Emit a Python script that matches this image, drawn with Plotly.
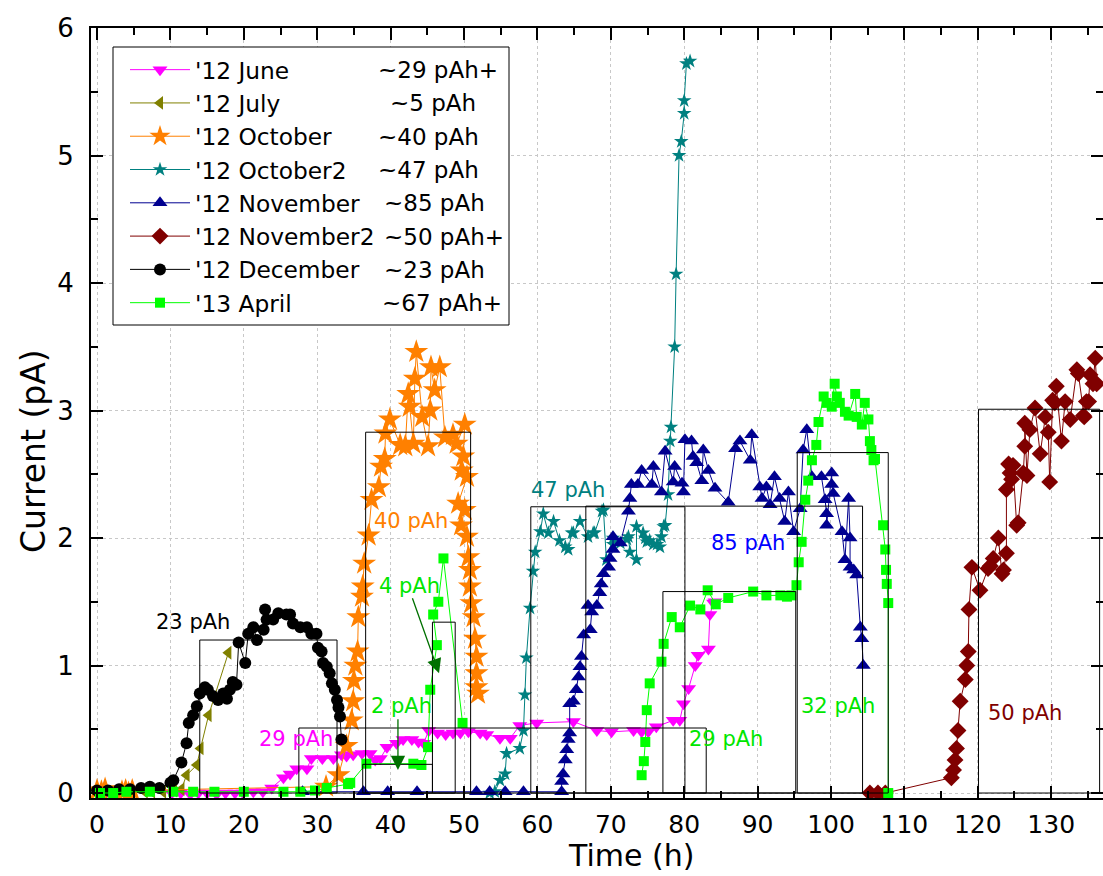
import plotly.graph_objects as go

# ---------------- data ----------------
series_names = ["'12 June", "'12 July", "'12 October", "'12 October2",
                "'12 November", "'12 November2", "'12 December", "'13 April"]
series_charge = ["~29 pAh+", "~5 pAh", "~40 pAh", "~47 pAh",
                 "~85 pAh", "~50 pAh+", "~23 pAh", "~67 pAh+"]

june_t = [0.0, 1.2, 2.5, 10.2, 11.4, 12.7, 13.8, 15.0, 16.3, 17.5,
          18.8, 19.9, 21.3, 22.6, 23.8, 25.4, 26.3, 27.2, 28.6, 29.2,
          30.7, 32.2, 33.3, 34.0, 34.9, 36.1, 37.2, 37.9, 38.6, 39.5,
          40.8, 41.7, 42.9, 43.8, 44.5, 45.2, 46.4, 47.5, 48.5, 49.5,
          50.6, 52.2, 53.1, 54.9, 56.3, 57.6, 59.9, 64.9, 68.1, 70.1,
          73.1, 74.2, 75.1, 76.2, 78.5, 79.4, 79.9, 80.6, 81.5, 81.9,
          83.3, 83.5, 84.0, 84.2]
june_i = [0.01, 0.00, 0.01, 0.00, 0.00, -0.01, 0.00, 0.00, -0.01, 0.00,
          0.00, 0.00, 0.01, 0.01, 0.04, 0.12, 0.15, 0.19, 0.19, 0.27,
          0.27, 0.27, 0.30, 0.29, 0.30, 0.31, 0.31, 0.26, 0.27, 0.36,
          0.39, 0.42, 0.42, 0.40, 0.39, 0.49, 0.47, 0.46, 0.47, 0.47,
          0.48, 0.47, 0.46, 0.43, 0.43, 0.53, 0.55, 0.56, 0.49, 0.48,
          0.49, 0.48, 0.48, 0.52, 0.57, 0.57, 0.70, 0.82, 1.00, 1.08,
          1.13, 1.40, 1.49, 1.50]

july_t = [6.5, 7.5, 9.0, 10.5, 11.5, 12.2, 13.6, 14.1, 15.2, 17.9]
july_i = [0.01, 0.01, 0.01, 0.02, 0.03, 0.14, 0.22, 0.35, 0.61, 1.10]

oct_t = [0.0, 0.6, 1.1, 3.4, 3.9, 4.3, 4.8, 31.2, 32.9, 34.0,
         34.7, 34.9, 35.0, 35.2, 35.5, 35.6, 36.1, 36.2, 36.4, 37.0,
         37.4, 38.4, 38.7, 39.2, 39.3, 39.9, 41.3, 42.0, 42.4, 42.6,
         43.1, 43.3, 43.5, 44.3, 45.1, 45.4, 45.5, 46.0, 46.7, 47.4,
         48.5, 49.0, 50.1, 49.9, 49.7, 50.4, 49.2, 50.1, 49.6, 50.4,
         50.6, 50.8, 50.8, 51.0, 51.3, 51.5, 51.7, 51.7, 51.7, 51.9]
oct_i = [0.02, 0.01, 0.03, 0.01, 0.02, 0.00, 0.02, 0.05, 0.14, 0.37,
         0.57, 0.72, 0.88, 1.00, 1.11, 1.38, 1.54, 1.62, 1.80, 2.02,
         2.30, 2.40, 2.56, 2.62, 2.82, 2.93, 2.73, 2.72, 3.13, 3.03,
         2.74, 3.25, 3.46, 2.95, 2.72, 3.00, 3.34, 3.16, 3.34, 2.79,
         2.81, 2.74, 2.89, 2.64, 2.53, 2.48, 2.27, 2.22, 2.10, 2.01,
         1.85, 1.75, 1.62, 1.49, 1.38, 1.21, 1.07, 0.94, 0.83, 0.78]

oct2_t = [53.5, 54.2, 54.9, 55.6, 55.8, 57.6, 58.1, 58.3, 58.5, 59.0,
          59.4, 59.7, 60.4, 60.8, 61.5, 62.2, 63.0, 63.8, 64.2, 64.7,
          64.9, 65.8, 66.9, 67.6, 67.8, 68.8, 69.0, 69.4, 70.3, 70.3,
          71.3, 72.2, 72.4, 72.6, 73.5, 73.5, 74.4, 74.7, 74.9, 75.3,
          75.8, 76.3, 76.7, 76.9, 77.2, 77.4, 77.8, 78.1, 78.2, 78.7,
          78.9, 79.3, 79.6, 80.0, 80.0, 80.3, 80.8]
oct2_i = [0.00, 0.01, 0.10, 0.15, 0.31, 0.35, 0.49, 0.77, 1.06, 1.45,
          1.74, 1.89, 2.05, 2.19, 2.04, 2.13, 1.98, 1.93, 1.91, 2.04,
          2.04, 2.13, 2.01, 2.04, 2.04, 2.21, 2.22, 1.83, 1.95, 2.00,
          1.96, 1.99, 2.01, 1.89, 1.83, 2.09, 2.04, 2.00, 1.97, 1.98,
          1.95, 1.95, 1.93, 2.01, 2.09, 2.10, 2.34, 2.76, 2.87, 3.50,
          4.07, 5.00, 5.11, 5.33, 5.43, 5.72, 5.74]

nov_t = [28.0, 36.3, 39.6, 43.6, 51.7, 53.5, 55.6, 58.1, 63.3, 63.3,
         63.5, 63.8, 64.0, 64.2, 64.4, 64.4, 64.9, 65.3, 65.6, 65.8,
         66.0, 66.3, 67.2, 67.4, 66.9, 68.1, 68.5, 68.7, 69.0, 69.7,
         69.9, 70.3, 70.3, 71.3, 72.4, 72.6, 72.8, 73.7, 74.2, 75.6,
         75.8, 76.9, 77.4, 78.5, 78.7, 79.7, 79.9, 80.1, 81.0, 81.2,
         81.7, 82.4, 82.6, 83.3, 84.2, 86.0, 87.0, 87.6, 89.0, 89.2,
         90.3, 90.6, 91.2, 91.7, 92.3, 93.0, 93.7, 94.2, 94.9, 95.8,
         96.2, 96.7, 97.4, 98.7, 99.2, 99.4, 99.4, 100.1, 100.1, 100.3,
         101.5, 101.9, 102.4, 102.6, 102.6, 103.1, 103.5, 104.0, 104.2, 104.4]
nov_i = [0.01, 0.01, 0.01, 0.01, 0.01, 0.01, 0.01, 0.01, 0.01, 0.09,
         0.15, 0.26, 0.34, 0.42, 0.47, 0.70, 0.72, 0.81, 0.91, 0.99,
         1.07, 1.24, 1.28, 1.42, 1.47, 1.47, 1.57, 1.64, 1.72, 1.77,
         1.84, 1.91, 2.01, 1.96, 2.21, 2.31, 2.42, 2.42, 2.53, 2.42,
         2.56, 2.36, 2.68, 2.44, 2.56, 2.43, 2.36, 2.77, 2.76, 2.64,
         2.59, 2.45, 2.69, 2.53, 2.39, 2.28, 2.70, 2.76, 2.61, 2.81,
         2.40, 2.31, 2.40, 2.26, 2.48, 2.31, 2.13, 2.36, 2.05, 2.23,
         2.69, 2.85, 2.48, 2.48, 2.30, 2.19, 2.10, 2.51, 2.42, 2.35,
         2.05, 1.83, 2.31, 2.00, 1.77, 1.75, 1.71, 1.30, 1.21, 1.00]

nov2_t = [105.3, 106.4, 107.4, 116.4, 116.7, 116.9, 117.1, 117.3, 117.6, 118.3,
          118.5, 118.7, 118.8, 119.2, 120.3, 121.4, 121.7, 122.1, 122.8, 123.3,
          123.5, 123.9, 123.9, 124.2, 124.4, 124.6, 124.8, 125.3, 125.5, 126.2,
          126.4, 126.4, 126.7, 127.1, 127.8, 128.5, 129.2, 129.6, 129.8, 130.2,
          130.5, 130.7, 131.4, 131.9, 132.6, 133.5, 133.7, 134.4, 134.5, 134.8,
          135.1, 135.3, 135.7, 136.0, 136.2]
nov2_i = [0.00, 0.00, 0.00, 0.12, 0.18, 0.26, 0.35, 0.49, 0.72, 0.89,
          1.00, 1.11, 1.44, 1.77, 1.59, 1.76, 1.78, 1.84, 2.00, 1.72,
          1.75, 1.88, 2.38, 2.58, 2.51, 2.46, 2.57, 2.10, 2.12, 2.51,
          2.72, 2.90, 2.49, 2.85, 3.02, 2.66, 2.95, 2.83, 2.44, 3.08,
          3.06, 3.19, 2.76, 3.07, 2.93, 3.32, 3.29, 2.96, 2.95, 3.07,
          3.07, 3.28, 3.21, 3.41, 3.21]

dec_t = [0.0, 1.5, 3.0, 4.5, 6.0, 7.2, 8.5, 10.0, 10.4, 11.5,
         12.2, 12.5, 13.1, 13.6, 14.0, 14.7, 15.1, 15.8, 16.5, 17.2,
         17.7, 18.1, 18.5, 19.0, 19.3, 20.2, 20.6, 21.3, 21.8, 22.7,
         22.9, 23.1, 24.0, 24.7, 25.8, 26.3, 26.7, 27.7, 28.6, 29.2,
         29.9, 30.1, 30.6, 30.8, 31.3, 31.7, 32.0, 32.4, 32.7, 32.9,
         33.1, 33.3]
dec_i = [0.02, 0.02, 0.03, 0.03, 0.04, 0.05, 0.04, 0.08, 0.10, 0.24,
         0.39, 0.55, 0.61, 0.68, 0.78, 0.83, 0.81, 0.76, 0.73, 0.78,
         0.74, 0.81, 0.87, 0.85, 1.18, 1.02, 1.25, 1.30, 1.20, 1.28,
         1.44, 1.36, 1.36, 1.41, 1.40, 1.40, 1.33, 1.30, 1.30, 1.25,
         1.25, 1.14, 1.11, 1.02, 0.99, 0.94, 0.86, 0.81, 0.73, 0.67,
         0.60, 0.42]

apr_t = [0.4, 2.2, 4.0, 7.2, 10.4, 13.1, 16.0, 20.0, 25.4, 27.7,
         29.7, 31.3, 34.2, 34.5, 36.7, 43.1, 44.2, 45.1, 45.4, 46.3,
         45.8, 46.5, 47.2, 49.8, None, 74.2, 74.5, 74.7, 74.9, 75.3,
         76.9, 77.2, 78.3, 79.4, 80.8, 82.2, 83.2, 84.3, 86.0, 89.4,
         91.2, 93.1, 94.0, 94.6, 95.3, 95.6, 96.0, 96.5, 96.9, 97.4,
         98.0, 98.3, 99.0, 99.4, 100.1, 100.5, 100.8, 101.2, 101.9, 102.4,
         103.3, 103.5, 104.2, 104.6, 105.1, 105.3, 105.5, 105.8, 106.0, 107.1,
         107.4, 107.5, 107.6, 107.8, 107.8]
apr_i = [0.00, 0.00, 0.01, 0.01, 0.01, 0.01, 0.01, 0.01, 0.01, 0.01,
         0.02, 0.04, 0.07, 0.08, 0.23, 0.23, 0.22, 0.36, 0.81, 1.16,
         1.40, 1.50, 1.84, 0.55, None, 0.14, 0.25, 0.40, 0.65, 0.86,
         1.03, 1.17, 1.38, 1.30, 1.47, 1.44, 1.59, 1.48, 1.53, 1.58,
         1.55, 1.55, 1.54, 1.55, 1.63, 1.81, 1.97, 2.30, 2.45, 2.61,
         2.73, 2.91, 3.11, 3.06, 3.03, 3.21, 3.11, 3.06, 2.99, 2.96,
         3.13, 2.95, 2.89, 3.06, 2.93, 2.76, 2.69, 2.61, 2.62, 2.10,
         1.91, 1.75, 1.64, 1.49, 0.00]

# integrated-charge boxes: start time, end time, mean current, label
box_t0 = [14.0, 27.5, 36.2, 45.7, 36.6, 59.1, 66.6, 77.1, 95.4, 120.1]
box_t1 = [32.7, 83.0, 45.7, 48.8, 50.9, 80.1, 104.3, 95.2, 107.8, 136.6]
box_i = [1.20, 0.51, 0.225, 1.34, 2.83, 2.245, 2.25, 1.58, 2.67, 3.01]
box_label = ["23 pAh", "29 pAh", "2 pAh", "4 pAh", "40 pAh",
             "47 pAh", "85 pAh", "29 pAh", "32 pAh", "50 pAh"]

# ---------------- styling ----------------
FONT = "DejaVu Sans"
styles = [
    dict(color="#FF00FF", symbol="triangle-down", size=13),
    dict(color="#808000", symbol="triangle-left", size=12),
    dict(color="#FF8000", symbol="star", size=18),
    dict(color="#008080", symbol="star", size=11),
    dict(color="#000090", symbol="triangle-up", size=13),
    dict(color="#800000", symbol="diamond", size=13),
    dict(color="#000000", symbol="circle", size=12),
    dict(color="#00FF00", symbol="square", size=10),
]
series_t = [june_t, july_t, oct_t, oct2_t, nov_t, nov2_t, dec_t, apr_t]
series_i = [june_i, july_i, oct_i, oct2_i, nov_i, nov2_i, dec_i, apr_i]

fig = go.Figure()
for name, t, cur, st in zip(series_names, series_t, series_i, styles):
    fig.add_trace(go.Scatter(
        x=t, y=cur, name=name, mode="lines+markers", connectgaps=False,
        line=dict(color=st["color"], width=1),
        marker=dict(symbol=st["symbol"], size=st["size"], color=st["color"],
                    line=dict(width=0)),
    ))

for t0, t1, h in zip(box_t0, box_t1, box_i):
    fig.add_shape(type="rect", xref="x", yref="y", x0=t0, x1=t1, y0=0, y1=h,
                  line=dict(color="black", width=1), layer="above")

# box labels (position, colour)
label_pos = [(13.1, 1.34), (27.1, 0.42), (41.5, 0.68), (42.6, 1.62), (42.8, 2.13),
             (64.2, 2.38), (88.7, 1.96), (85.7, 0.42), (101.0, 0.68), (126.4, 0.63)]
label_col = ["#000000", "#FF00FF", "#00E600", "#00E600", "#FF8000",
             "#008080", "#0000FF", "#00E600", "#00E600", "#800000"]
for txt, (lx, ly), col in zip(box_label, label_pos, label_col):
    fig.add_annotation(x=lx, y=ly, xref="x", yref="y", text=txt, showarrow=False,
                       font=dict(family=FONT, size=21, color=col))

# arrows for the small boxes
for (tx, ty), (hx, hy) in [((41.0, 0.59), (41.0, 0.18)), ((42.9, 1.54), (46.6, 0.94))]:
    fig.add_annotation(x=hx, y=hy, ax=tx, ay=ty, xref="x", yref="y", axref="x", ayref="y",
                       text="", showarrow=True, arrowhead=2, arrowsize=2.2,
                       arrowwidth=1.3, arrowcolor="#007000")

# ---------------- layout ----------------
W, H = 1103, 876
ML, MR, MT, MB = 91, 0, 28, 78
PW, PH = W - ML - MR, H - MT - MB


def px(xp):
    return (xp - ML) / PW


def py(yp):
    return (H - MB - yp) / PH


# legend frame
fig.add_shape(type="rect", xref="paper", yref="paper", x0=px(113), x1=px(509),
              y0=py(325), y1=py(47), line=dict(color="black", width=1),
              fillcolor="white", layer="above")

# charge column of legend
row_y = [70, 103.3, 136.7, 170, 203.3, 236.7, 270, 303.3]
row_x = [376, 388, 376, 376, 382, 382, 382, 380]
for txt, rx, ry in zip(series_charge, row_x, row_y):
    fig.add_annotation(x=px(rx), y=py(ry), xref="paper", yref="paper", text=txt,
                       showarrow=False, xanchor="left", yanchor="middle",
                       font=dict(family=FONT, size=23, color="black"))

# axis titles
fig.add_annotation(x=px(631), y=py(856), xref="paper", yref="paper", text="Time (h)",
                   showarrow=False, xanchor="center", yanchor="middle",
                   borderpad=0, borderwidth=0,
                   font=dict(family=FONT, size=30, color="black"))
fig.add_annotation(x=px(33), y=py(451), xref="paper", yref="paper", text="Current (pA)",
                   showarrow=False, textangle=-90, xanchor="center", yanchor="middle",
                   font=dict(family=FONT, size=33, color="black"))

axis_common = dict(showline=True, linecolor="black", linewidth=2, mirror="allticks",
                   ticks="inside", ticklen=12, tickwidth=2, tickcolor="black",
                   showgrid=True, gridcolor="#C8C8C8", griddash="dot", gridwidth=1,
                   zeroline=False)

fig.update_xaxes(range=[-0.82, 137.06], tick0=0, dtick=10,
                 minor=dict(ticks="inside", ticklen=7, tickwidth=2, tickcolor="black",
                            dtick=5, tick0=0, showgrid=False),
                 tickfont=dict(family=FONT, size=25, color="black"),
                 ticklabelstandoff=3, **axis_common)
fig.update_yaxes(range=[-0.039, 6.0], tick0=0, dtick=1,
                 minor=dict(ticks="inside", ticklen=7, tickwidth=2, tickcolor="black",
                            dtick=0.5, tick0=0, showgrid=False),
                 tickfont=dict(family=FONT, size=26, color="black"),
                 ticklabelstandoff=10, **axis_common)

fig.update_layout(
    width=W, height=H, margin=dict(l=ML, r=MR, t=MT, b=MB, autoexpand=False),
    plot_bgcolor="white", paper_bgcolor="white",
    font=dict(family=FONT, color="black"),
    showlegend=True,
    legend=dict(x=px(125), y=py(48), xanchor="left", yanchor="top",
                bgcolor="rgba(0,0,0,0)", borderwidth=0, itemwidth=60,
                font=dict(family=FONT, size=23.3, color="black"),
                tracegroupgap=0),
)

fig.write_html("out.html")
